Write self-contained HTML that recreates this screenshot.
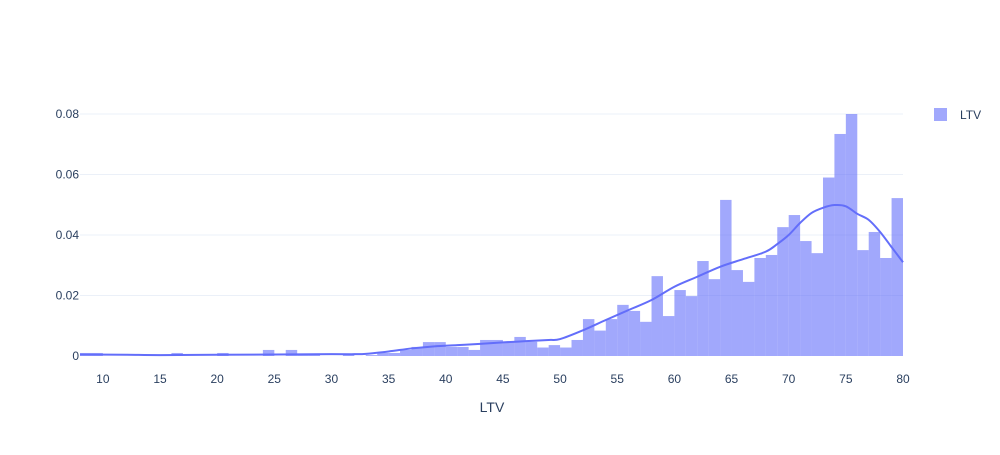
<!DOCTYPE html>
<html><head><meta charset="utf-8"><style>
html,body{margin:0;padding:0;background:#fff;}
svg text{font-family:"Liberation Sans",Arial,sans-serif;fill:#2a3f5f;}
</style></head><body>
<svg id="chart" width="1000" height="450" xmlns="http://www.w3.org/2000/svg">
<g id="grid"></g>
<g id="bars"></g>
<path id="kde" fill="none" stroke="#636efa" stroke-width="2"></path>
<g id="xticks"></g>
<g id="yticks"></g>
<text x="492" y="412" font-size="14" text-anchor="middle">LTV</text>
<g>
<rect x="934" y="108" width="13" height="13" fill="#636efa" fill-opacity="0.6"></rect>
<text x="960" y="119" font-size="12">LTV</text>
</g>
</svg>
<script>
const binStart = 8;
const binValues = [0.001,0.001,0,0,0,0,0,0,0.001,0,0,0,0.001,0,0,0,0.002,0,0.002,0.0005,0.0007,0,0,0.0007,0,0.0003,0.001,0.001,0.002,0.003,0.0046,0.0046,0.003,0.003,0.002,0.0053,0.0053,0.0045,0.0063,0.0047,0.0028,0.0036,0.0028,0.0053,0.0122,0.0084,0.0122,0.0169,0.0149,0.0113,0.0264,0.0132,0.0218,0.0198,0.0314,0.0254,0.0516,0.0284,0.0245,0.0324,0.0334,0.0426,0.0466,0.038,0.034,0.059,0.0734,0.08,0.035,0.041,0.0324,0.0522];
const kdeX = [8,12,15,20,25,30,32,33,35,37,39,41,43,45,47,49,50,52,54,56,58,60,62,64,66,68,69,70,71,72,73,74,75,76,77,78,79,80];
const kdeY = [0.0005,0.0004,0.0003,0.0004,0.0005,0.0006,0.0006,0.0007,0.0015,0.0025,0.0032,0.0036,0.004,0.0045,0.0049,0.0053,0.0056,0.0085,0.0119,0.0152,0.0185,0.0229,0.0262,0.0295,0.032,0.0345,0.037,0.040,0.044,0.0473,0.049,0.0499,0.0495,0.047,0.045,0.041,0.036,0.031];
const xTicks = [10,15,20,25,30,35,40,45,50,55,60,65,70,75,80];
const yTicks = [0,0.02,0.04,0.06,0.08];
const yTickLabels = ["0","0.02","0.04","0.06","0.08"];

const xs = v => 80 + (v - 8) * (823 / 72);
const ys = v => 356 - v * 3025;
const NS = "http://www.w3.org/2000/svg";
const grid = document.getElementById('grid');
const yt = document.getElementById('yticks');
yTicks.forEach((t,i)=>{
  if (t>0){
    const l=document.createElementNS(NS,'line');
    
    
    l.setAttribute('x1',80);l.setAttribute('x2',903);
    l.setAttribute('y1',ys(t));l.setAttribute('y2',ys(t));
    l.setAttribute('stroke','#ebf0f8');l.setAttribute('stroke-width',1);
    grid.appendChild(l);
  }
  const tx=document.createElementNS(NS,'text');
  
  
  tx.setAttribute('x',79);tx.setAttribute('y',ys(t)+4);
  tx.setAttribute('text-anchor','end');tx.setAttribute('font-size',12);
  tx.textContent=yTickLabels[i];
  yt.appendChild(tx);
});
const xt=document.getElementById('xticks');
xTicks.forEach(t=>{
  const tx=document.createElementNS(NS,'text');
  
  
  tx.setAttribute('x',xs(t));tx.setAttribute('y',383);
  tx.setAttribute('text-anchor','middle');tx.setAttribute('font-size',12);
  tx.textContent=t;
  xt.appendChild(tx);
});
const bars=document.getElementById('bars');
binValues.forEach((v,i)=>{
  if(v<=0) return;
  const x0=xs(binStart+i), x1=xs(binStart+i+1);
  const r=document.createElementNS(NS,'rect');
  
  
  r.setAttribute('x',x0);r.setAttribute('width',x1-x0);
  r.setAttribute('y',ys(v));r.setAttribute('height',ys(0)-ys(v));
  r.setAttribute('fill','#636efa');r.setAttribute('fill-opacity','0.6');
  bars.appendChild(r);
});
const pts=kdeX.map((x,i)=>[xs(x),ys(kdeY[i])]);
let d='M'+pts[0][0]+','+pts[0][1];
for(let i=0;i<pts.length-1;i++){
  const p0=pts[Math.max(0,i-1)],p1=pts[i],p2=pts[i+1],p3=pts[Math.min(pts.length-1,i+2)];
  const c1=[p1[0]+(p2[0]-p0[0])/6,p1[1]+(p2[1]-p0[1])/6];
  const c2=[p2[0]-(p3[0]-p1[0])/6,p2[1]-(p3[1]-p1[1])/6];
  d+=' C'+c1[0]+','+c1[1]+' '+c2[0]+','+c2[1]+' '+p2[0]+','+p2[1];
}
document.getElementById('kde').setAttribute('d',d);
</script>
</body></html>
